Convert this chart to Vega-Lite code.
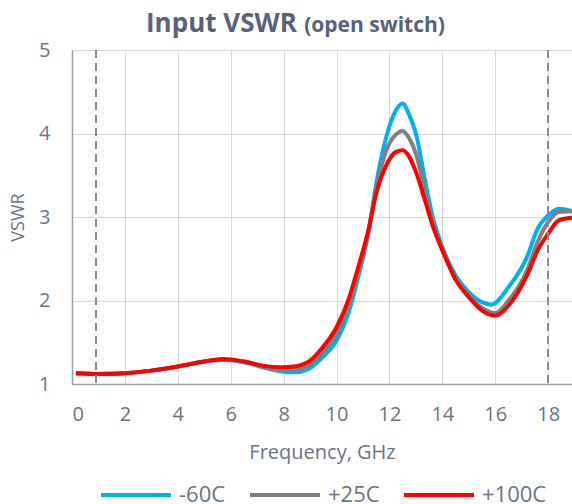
{
  "$schema": "https://vega.github.io/schema/vega-lite/v6.json",
  "width": 500,
  "height": 334,
  "autosize": {"type": "none"},
  "padding": {"left": 72, "top": 50, "right": 0, "bottom": 120},
  "background": "white",
  "config": {
    "font": "Open Sans",
    "view": {"stroke": null}
  },
  "title": {
    "text": "Input VSWR",
    "subtitle": "\u200b\u00a0\u00a0\u00a0\u00a0\u00a0\u00a0\u00a0\u00a0\u00a0\u00a0\u00a0\u00a0\u00a0\u00a0\u00a0\u00a0\u00a0\u00a0\u00a0\u00a0\u00a0\u00a0\u00a0\u00a0\u00a0\u00a0\u00a0\u00a0\u00a0(open switch)",
    "anchor": "start",
    "frame": "group",
    "dx": 74,
    "font": "Open Sans",
    "fontSize": 26,
    "fontWeight": "bold",
    "color": "#59627a",
    "subtitleFont": "Open Sans",
    "subtitleFontSize": 21,
    "subtitleFontWeight": "bold",
    "subtitleColor": "#59627a",
    "subtitlePadding": -22,
    "offset": 3
  },
  "data": {
    "values": [
      {"f": 0.15, "v": 1.13, "s": "-60C"}, {"f": 1, "v": 1.12, "s": "-60C"}, {"f": 2, "v": 1.13, "s": "-60C"}, {"f": 3, "v": 1.16, "s": "-60C"}, {"f": 4, "v": 1.21, "s": "-60C"}, {"f": 5, "v": 1.27, "s": "-60C"}, {"f": 5.7, "v": 1.29, "s": "-60C"}, {"f": 6.5, "v": 1.26, "s": "-60C"}, {"f": 7.2, "v": 1.2, "s": "-60C"}, {"f": 7.9, "v": 1.15, "s": "-60C"}, {"f": 8.4, "v": 1.14, "s": "-60C"}, {"f": 9, "v": 1.19, "s": "-60C"}, {"f": 9.4, "v": 1.3, "s": "-60C"}, {"f": 10, "v": 1.52, "s": "-60C"}, {"f": 10.44, "v": 1.84, "s": "-60C"}, {"f": 10.82, "v": 2.28, "s": "-60C"}, {"f": 11.2, "v": 2.8, "s": "-60C"}, {"f": 11.5, "v": 3.4, "s": "-60C"}, {"f": 11.88, "v": 3.96, "s": "-60C"}, {"f": 12.25, "v": 4.28, "s": "-60C"}, {"f": 12.5, "v": 4.36, "s": "-60C"}, {"f": 12.75, "v": 4.22, "s": "-60C"}, {"f": 13.0, "v": 4.0, "s": "-60C"}, {"f": 13.38, "v": 3.38, "s": "-60C"}, {"f": 13.62, "v": 3.02, "s": "-60C"}, {"f": 14, "v": 2.64, "s": "-60C"}, {"f": 14.5, "v": 2.3, "s": "-60C"}, {"f": 15.0, "v": 2.1, "s": "-60C"}, {"f": 15.5, "v": 1.98, "s": "-60C"}, {"f": 15.85, "v": 1.95, "s": "-60C"}, {"f": 16.5, "v": 2.16, "s": "-60C"}, {"f": 17.2, "v": 2.52, "s": "-60C"}, {"f": 17.6, "v": 2.86, "s": "-60C"}, {"f": 18, "v": 3.02, "s": "-60C"}, {"f": 18.4, "v": 3.1, "s": "-60C"}, {"f": 18.9, "v": 3.07, "s": "-60C"},
      {"f": 0.15, "v": 1.13, "s": "+25C"}, {"f": 1, "v": 1.12, "s": "+25C"}, {"f": 2, "v": 1.13, "s": "+25C"}, {"f": 3, "v": 1.16, "s": "+25C"}, {"f": 4, "v": 1.21, "s": "+25C"}, {"f": 5, "v": 1.27, "s": "+25C"}, {"f": 5.7, "v": 1.29, "s": "+25C"}, {"f": 6.5, "v": 1.27, "s": "+25C"}, {"f": 7.2, "v": 1.21, "s": "+25C"}, {"f": 7.9, "v": 1.17, "s": "+25C"}, {"f": 8.4, "v": 1.17, "s": "+25C"}, {"f": 9, "v": 1.23, "s": "+25C"}, {"f": 9.4, "v": 1.35, "s": "+25C"}, {"f": 10, "v": 1.6, "s": "+25C"}, {"f": 10.44, "v": 1.92, "s": "+25C"}, {"f": 10.82, "v": 2.34, "s": "+25C"}, {"f": 11.2, "v": 2.82, "s": "+25C"}, {"f": 11.5, "v": 3.34, "s": "+25C"}, {"f": 11.88, "v": 3.8, "s": "+25C"}, {"f": 12.25, "v": 3.99, "s": "+25C"}, {"f": 12.5, "v": 4.03, "s": "+25C"}, {"f": 12.75, "v": 3.94, "s": "+25C"}, {"f": 13.0, "v": 3.76, "s": "+25C"}, {"f": 13.38, "v": 3.26, "s": "+25C"}, {"f": 13.62, "v": 2.95, "s": "+25C"}, {"f": 14, "v": 2.62, "s": "+25C"}, {"f": 14.5, "v": 2.27, "s": "+25C"}, {"f": 15.0, "v": 2.06, "s": "+25C"}, {"f": 15.5, "v": 1.91, "s": "+25C"}, {"f": 16, "v": 1.85, "s": "+25C"}, {"f": 16.5, "v": 2.0, "s": "+25C"}, {"f": 17.2, "v": 2.36, "s": "+25C"}, {"f": 17.6, "v": 2.7, "s": "+25C"}, {"f": 18, "v": 2.94, "s": "+25C"}, {"f": 18.4, "v": 3.06, "s": "+25C"}, {"f": 18.9, "v": 3.07, "s": "+25C"},
      {"f": 0.15, "v": 1.13, "s": "+100C"}, {"f": 1, "v": 1.12, "s": "+100C"}, {"f": 2, "v": 1.13, "s": "+100C"}, {"f": 3, "v": 1.16, "s": "+100C"}, {"f": 4, "v": 1.21, "s": "+100C"}, {"f": 5, "v": 1.27, "s": "+100C"}, {"f": 5.7, "v": 1.3, "s": "+100C"}, {"f": 6.5, "v": 1.27, "s": "+100C"}, {"f": 7.2, "v": 1.22, "s": "+100C"}, {"f": 7.9, "v": 1.2, "s": "+100C"}, {"f": 8.4, "v": 1.21, "s": "+100C"}, {"f": 9, "v": 1.28, "s": "+100C"}, {"f": 9.4, "v": 1.41, "s": "+100C"}, {"f": 10, "v": 1.68, "s": "+100C"}, {"f": 10.44, "v": 2.0, "s": "+100C"}, {"f": 10.82, "v": 2.4, "s": "+100C"}, {"f": 11.2, "v": 2.84, "s": "+100C"}, {"f": 11.5, "v": 3.28, "s": "+100C"}, {"f": 11.88, "v": 3.62, "s": "+100C"}, {"f": 12.25, "v": 3.78, "s": "+100C"}, {"f": 12.5, "v": 3.8, "s": "+100C"}, {"f": 12.75, "v": 3.72, "s": "+100C"}, {"f": 13.0, "v": 3.54, "s": "+100C"}, {"f": 13.38, "v": 3.16, "s": "+100C"}, {"f": 13.62, "v": 2.91, "s": "+100C"}, {"f": 14, "v": 2.6, "s": "+100C"}, {"f": 14.5, "v": 2.25, "s": "+100C"}, {"f": 15.0, "v": 2.04, "s": "+100C"}, {"f": 15.5, "v": 1.88, "s": "+100C"}, {"f": 16, "v": 1.82, "s": "+100C"}, {"f": 16.5, "v": 1.94, "s": "+100C"}, {"f": 17.2, "v": 2.3, "s": "+100C"}, {"f": 17.6, "v": 2.6, "s": "+100C"}, {"f": 18, "v": 2.8, "s": "+100C"}, {"f": 18.4, "v": 2.96, "s": "+100C"}, {"f": 18.9, "v": 2.99, "s": "+100C"}
    ]
  },
  "layer": [
    {
      "mark": {"type": "line", "strokeWidth": 4, "interpolate": "monotone", "clip": true},
      "encoding": {
        "x": {
          "field": "f", "type": "quantitative",
          "scale": {"domain": [0, 18.9], "nice": false, "zero": false},
          "axis": {
            "title": "Frequency, GHz",
            "values": [0, 2, 4, 6, 8, 10, 12, 14, 16, 18],
            "grid": true, "gridColor": "#d9d9d9", "gridWidth": 1,
            "domain": true, "domainColor": "#a0a0a0", "domainWidth": 1.5,
            "ticks": false, "tickSize": 0,
            "labelFontSize": 20, "labelColor": "#6b7489", "labelPadding": 20, "labelFont": "Open Sans",
            "titleFontSize": 20, "titleColor": "#6b7489", "titleFontWeight": "normal", "titlePadding": 18, "titleFont": "Open Sans"
          }
        },
        "y": {
          "field": "v", "type": "quantitative",
          "scale": {"domain": [1, 5], "nice": false, "zero": false},
          "axis": {
            "title": "VSWR",
            "values": [1, 2, 3, 4, 5],
            "grid": true, "gridColor": "#d9d9d9", "gridWidth": 1,
            "domain": true, "domainColor": "#a0a0a0", "domainWidth": 1.5,
            "ticks": false, "tickSize": 0,
            "labelFontSize": 20, "labelColor": "#6b7489", "labelPadding": 22, "labelFont": "Open Sans",
            "titleFontSize": 18, "titleColor": "#6b7489", "titleFontWeight": "normal", "titlePadding": 11, "titleFont": "Open Sans"
          }
        },
        "color": {
          "field": "s", "type": "nominal",
          "scale": {"domain": ["-60C", "+25C", "+100C"], "range": ["#00b0f0", "#808080", "#ff0000"]},
          "legend": {
            "title": null,
            "orient": "none",
            "legendX": 27,
            "legendY": 408,
            "direction": "horizontal",
            "symbolType": "stroke",
            "symbolSize": 4900,
            "symbolStrokeWidth": 4,
            "labelFontSize": 22,
            "labelColor": "#6b7489",
            "labelFont": "Open Sans",
            "labelOffset": 6,
            "columnPadding": 16
          }
        }
      }
    },
    {
      "mark": {"type": "rule", "color": "#8c8c8c", "strokeWidth": 1.5, "strokeDash": [8, 5]},
      "encoding": {"x": {"datum": 0.9}}
    },
    {
      "mark": {"type": "rule", "color": "#8c8c8c", "strokeWidth": 1.5, "strokeDash": [8, 5]},
      "encoding": {"x": {"datum": 18}}
    }
  ]
}
